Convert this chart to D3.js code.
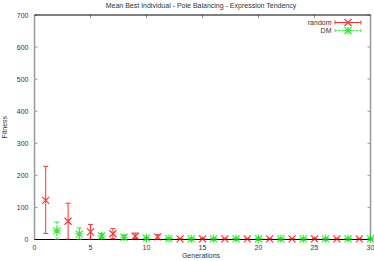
<!DOCTYPE html>
<html><head><meta charset="utf-8">
<script src="https://cdn.jsdelivr.net/npm/d3@7"></script>
<style>body{margin:0;background:#fff}text{font-family:"Liberation Sans",Arial,sans-serif}</style>
</head><body><svg id="c" width="374" height="261"></svg>
<script>
const title = "Mean Best Individual - Pole Balancing - Expression Tendency";
const xLabel = "Generations";
const yLabel = "Fitness";
const xTicks = [0,5,10,15,20,25,30];
const yTicks = [0,100,200,300,400,500,600,700];
const randomGen = [1,3,5,7,9,11,13,15,17,19,21,23,25,27,29];
const randomMean = [122,57,24,18,10,8,2,2,2,2,2,2,2,2,2];
const randomLow  = [19,1,1,3,3,1,1,1,1,1,1,1,1,1,1];
const randomHigh = [228,113,47,34,20,15,3,3,3,3,3,3,3,3,3];
const dmGen = [2,4,6,8,10,12,14,16,18,20,22,24,26,28,30];
const dmMean = [27,17,11,7,4,3,2,2,2,2,2,2,2,2,2];
const dmLow  = [1,1,3,1,1,1,1,1,1,1,1,1,1,1,1];
const dmHigh = [54,36,19,14,7,5,3,3,3,3,3,3,3,3,3];

const svg = d3.select("#c");
const L=34.5, R=370.5, T=15, B=239.5;
const x = d3.scaleLinear().domain([0,30]).range([L,R]);
const y = d3.scaleLinear().domain([0,700]).range([B,T]);
const grey="#999", tc="#333";

yTicks.forEach(v=>{
  svg.append("line").attr("x1",L).attr("x2",L+3).attr("y1",y(v)).attr("y2",y(v)).attr("stroke",grey);
  svg.append("line").attr("x1",R).attr("x2",R-3).attr("y1",y(v)).attr("y2",y(v)).attr("stroke",grey);
  svg.append("text").attr("x",L-6).attr("y",y(v)+2.5).attr("text-anchor","end").attr("font-size",7).attr("fill",tc).text(v);
});
xTicks.forEach(v=>{
  svg.append("line").attr("x1",x(v)).attr("x2",x(v)).attr("y1",T).attr("y2",T+3).attr("stroke",grey);
  svg.append("line").attr("x1",x(v)).attr("x2",x(v)).attr("y1",B).attr("y2",B-3).attr("stroke",grey);
  svg.append("text").attr("x",x(v)).attr("y",B+10).attr("text-anchor","middle").attr("font-size",7).attr("fill",tc).text(v);
});
svg.append("line").attr("x1",L).attr("x2",L).attr("y1",T).attr("y2",B).attr("stroke",grey).attr("stroke-width",1.5);
svg.append("line").attr("x1",R).attr("x2",R).attr("y1",T).attr("y2",B).attr("stroke",grey).attr("stroke-width",1.5);
svg.append("line").attr("x1",L).attr("x2",R).attr("y1",T).attr("y2",T).attr("stroke","#000");
svg.append("line").attr("x1",L).attr("x2",R).attr("y1",B).attr("y2",B).attr("stroke","#000");

svg.append("text").attr("x",201).attr("y",7.5).attr("text-anchor","middle").attr("font-size",7).attr("fill",tc).text(title);
svg.append("text").attr("x",201).attr("y",258).attr("text-anchor","middle").attr("font-size",7).attr("fill",tc).text(xLabel);
svg.append("text").attr("transform","translate(7,"+((T+B)/2)+") rotate(-90)").attr("text-anchor","middle").attr("font-size",7).attr("fill",tc).text(yLabel);

const red="#ff0000", green="#00e000";
function cross(g,cx,cy,c){
  const s=3.5;
  g.append("path").attr("d",`M${cx-s},${cy-s}L${cx+s},${cy+s}M${cx-s},${cy+s}L${cx+s},${cy-s}`).attr("stroke",c).attr("stroke-width",1.2).attr("fill","none");
}
function star(g,cx,cy,c){
  const s=3.5;
  g.append("path").attr("d",`M${cx-s},${cy-s}L${cx+s},${cy+s}M${cx-s},${cy+s}L${cx+s},${cy-s}M${cx-s-0.5},${cy}L${cx+s+0.5},${cy}M${cx},${cy-s-0.5}L${cx},${cy+s+0.5}`).attr("stroke",c).attr("stroke-width",1.1).attr("fill","none");
}
function ebar(g,cx,lo,hi,c,dash){
  g.append("line").attr("x1",cx).attr("x2",cx).attr("y1",lo).attr("y2",hi).attr("stroke",c).attr("stroke-dasharray",dash||null);
  [lo,hi].forEach(yy=>g.append("line").attr("x1",cx-2.5).attr("x2",cx+2.5).attr("y1",yy).attr("y2",yy).attr("stroke",c));
}
const g=svg.append("g").attr("opacity",0.8);
randomGen.forEach((gn,i)=>{
  ebar(g,x(gn),y(randomLow[i]),y(randomHigh[i]),red);
  cross(g,x(gn),y(randomMean[i]),red);
});
dmGen.forEach((gn,i)=>{
  ebar(g,x(gn),y(dmLow[i]),y(dmHigh[i]),green,"2,1");
  star(g,x(gn),y(dmMean[i]),green);
});
// legend
const ly1=22.5, ly2=30.5;
svg.append("text").attr("x",331.5).attr("y",ly1+2.5).attr("text-anchor","end").attr("font-size",7).attr("fill",tc).text("random");
svg.append("text").attr("x",331.5).attr("y",ly2+2.5).attr("text-anchor","end").attr("font-size",7).attr("fill",tc).text("DM");
const lg=svg.append("g").attr("opacity",0.8);
lg.append("line").attr("x1",335).attr("x2",361).attr("y1",ly1).attr("y2",ly1).attr("stroke",red);
[335,361].forEach(xx=>lg.append("line").attr("x1",xx).attr("x2",xx).attr("y1",ly1-2).attr("y2",ly1+2).attr("stroke",red));
cross(lg,348,ly1,red);
lg.append("line").attr("x1",335).attr("x2",361).attr("y1",ly2).attr("y2",ly2).attr("stroke",green).attr("stroke-dasharray","2,1.5");
[335,361].forEach(xx=>lg.append("line").attr("x1",xx).attr("x2",xx).attr("y1",ly2-1.5).attr("y2",ly2+1.5).attr("stroke",green).attr("stroke-dasharray","1,1"));
star(lg,348,ly2,green);
</script></body></html>
